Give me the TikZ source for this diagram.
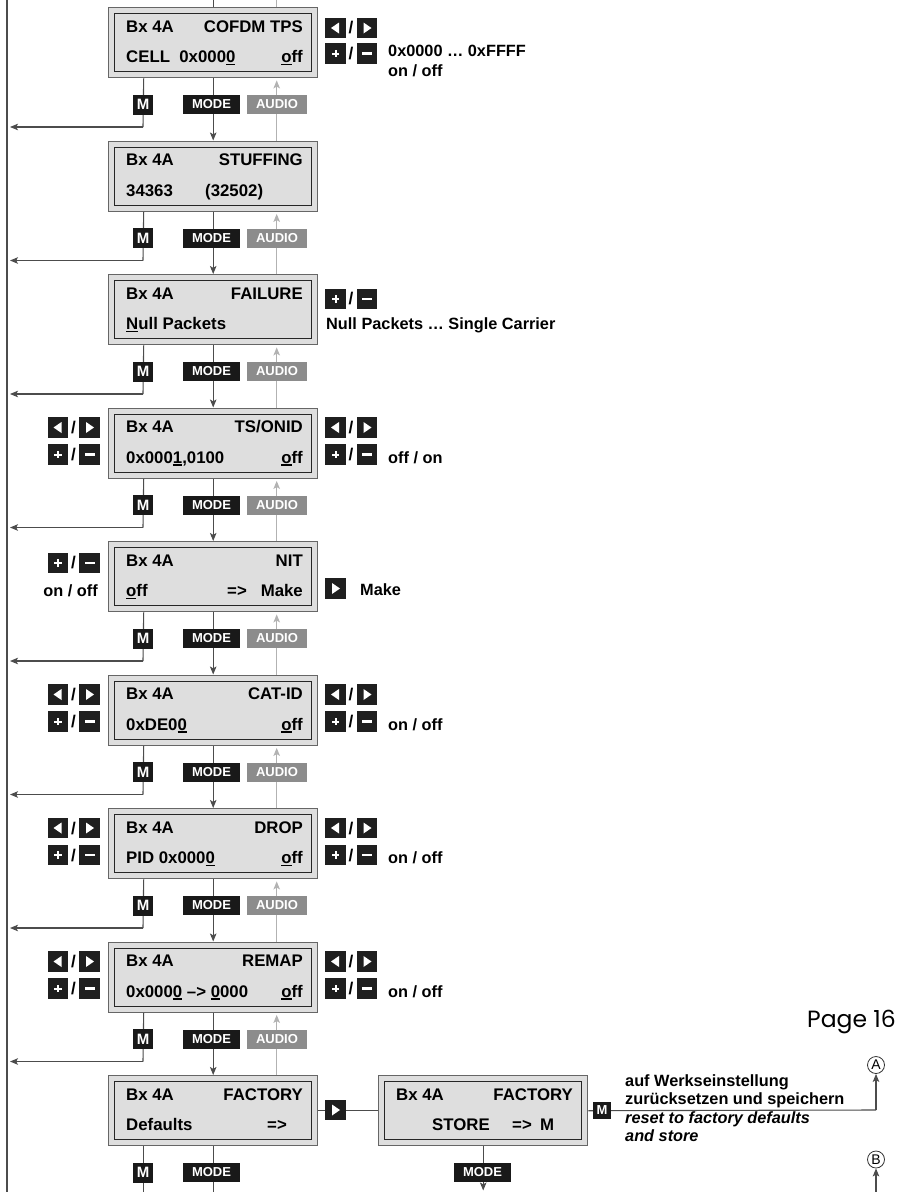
\documentclass[tikz,border=0pt]{standalone}
\usepackage{fontspec}
\setmainfont{Liberation Sans}
\newfontfamily\pagefont{Poppins}
\usetikzlibrary{arrows.meta,calc}
\newsavebox\myulbox
\newcommand\myul[1]{\sbox\myulbox{#1}\rlap{\rule[-2.6pt]{\wd\myulbox}{1.4pt}}\usebox{\myulbox}}
\newcommand\lrkeys[3]{%
 \node[keysq] (#1a) at (#2+10.5,#3) {};
 \fill[white] ($(#1a.center)+(-4.5,0)$) -- ++(8,-5.5) -- ++(0,11) -- cycle;
 \node[slashtxt] (#1s) at (#2+26,#3) {/};
 \node[keysq] (#1b) at (#2+42,#3) {};
 \fill[white] ($(#1b.center)+(4.5,0)$) -- ++(-8,-5.5) -- ++(0,11) -- cycle;
}
\newcommand\pmkeys[3]{%
 \node[keysq] (#1a) at (#2+10.5,#3) {};
 \fill[white] ($(#1a.center)+(-3.8,-1)$) rectangle ++(7.6,2);
 \fill[white] ($(#1a.center)+(-1,-3.8)$) rectangle ++(2,7.6);
 \node[slashtxt] (#1s) at (#2+26,#3) {/};
 \node[keysq] (#1b) at (#2+42,#3) {};
 \fill[white] ($(#1b.center)+(-5,-1.2)$) rectangle ++(10,2.4);
}
\begin{document}
\begin{tikzpicture}[x=1pt,y=-1pt,
  lcdout/.style={draw=black!60, line width=1.4pt, fill=black!13, minimum width=209pt, minimum height=70pt, inner sep=0, anchor=north west},
  lcdin/.style={draw=black!85, line width=1.3pt, minimum width=197pt, minimum height=58pt, inner sep=0},
  bt/.style={font=\fontsize{16.8}{18}\selectfont\bfseries, inner sep=0},
  btl/.style={bt, anchor=base west},
  btr/.style={bt, anchor=base east},
  rt/.style={font=\fontsize{16.3}{18}\selectfont\bfseries, inner sep=0, anchor=base west},
  keysq/.style={fill=black!88, minimum size=20.5pt, inner sep=0},
  slashtxt/.style={font=\fontsize{17}{18}\selectfont\bfseries, inner sep=0},
  modelab/.style={fill=black!90, text=white, font=\fontsize{13}{14}\selectfont\bfseries, minimum width=57pt, minimum height=19pt, inner sep=0},
  audiolab/.style={modelab, fill=black!45, minimum width=60pt},
  mlab/.style={fill=black!90, text=white, font=\fontsize{15}{16}\selectfont\bfseries, minimum width=20pt, minimum height=20pt, inner sep=0},
  mline/.style={draw=black!70, line width=1.1pt},
  aline/.style={draw=black!30, line width=1.1pt},
  arr/.style={-{Stealth[length=8pt,width=6.5pt,inset=1.8pt]}},
  circ/.style={circle, draw=black!80, line width=0.8pt, minimum size=17pt, inner sep=0, font=\fontsize{14}{15}\selectfont}
]
\useasboundingbox (0,0) rectangle (909,1192);
\coordinate (lt) at (7,0);
\coordinate (lb) at (7,1192);
\coordinate (top) at (0,0);
\coordinate (bot) at (0,1192);
\draw[mline, line width=1.4pt] (lt) -- (lb);

% LCD boxes
\foreach \i/\T in {0/7,1/140.5,2/274,3/407.5,4/541,5/674.5,6/808,7/941.5,8/1075} {
  \node[lcdout] (b\i) at (108,\T) {};
  \node[lcdin] (b\i in) at (b\i.center) {};
}
\node[lcdout] (s) at (378,1075) {};
\node[lcdin] (s in) at (s.center) {};

% top stubs
\draw[mline] (b0.north) -- (b0.north |- top);
\draw[aline] ([xshift=63.5pt]b0.north) -- ([xshift=63.5pt]b0.north |- top);

% connectors between blocks
\foreach \i/\T in {0/7,1/140.5,2/274,3/407.5,4/541,5/674.5,6/808,7/941.5} {
  \pgfmathtruncatemacro\j{\i+1}
  \coordinate (mc\i) at (143,\T+120);
  \draw[mline] ([xshift=-69.5pt]b\i.south) -- (mc\i);
  \draw[mline,arr,shorten >=3pt] (mc\i) -- (mc\i -| lt);
  \draw[mline,arr] (b\i.south) -- (b\j.north);
  \draw[aline,arr,shorten >=2pt] ([xshift=63.5pt]b\j.north) -- ([xshift=63.5pt]b\i.south);
  \node[mlab] (ml\i) at (143,\T+97.5) {M};
  \node[modelab] (mo\i) at (211.5,\T+97.5) {MODE};
  \node[audiolab] (au\i) at (277,\T+97.5) {AUDIO};
}

% factory block bottom
\draw[mline] ([xshift=-69.5pt]b8.south) -- ([xshift=-69.5pt]b8.south |- bot);
\draw[mline] (b8.south) -- (b8.south |- bot);
\node[mlab] (ml8) at (143,1172.5) {M};
\node[modelab] (mo8) at (211.5,1172.5) {MODE};

% factory -> store
\draw[mline] (b8.east) -- (s.west);
\node[keysq] (fk) at (335.5,1110) {};
\fill[white] ($(fk.center)+(4.5,0)$) -- ++(-8,-5.5) -- ++(0,11) -- cycle;
\draw[mline,arr,shorten >=1.5pt] (s.south) -- (s.south |- bot);
\node[modelab] (mos) at (482.5,1172.5) {MODE};

% store -> A
\node[circ] (A) at (876,1065) {A};
\node[circ] (B) at (876,1159.5) {B};
\coordinate (ac) at (876,1110);
\coordinate (bb) at (876,1192);
\draw[mline] (s.east) -- (ac);
\draw[mline,arr] (ac) -- (A.south);
\draw[mline,arr] (bb) -- (B.south);
\node[mlab, minimum width=18pt, minimum height=17pt, font=\fontsize{13}{14}\selectfont\bfseries] (sm) at (602,1110) {M};

% box texts
\node[btl] at (126,32) {Bx 4A};
\node[btr] at (303,32) {COFDM TPS};
\node[btl] at (126,62.5) {CELL\ \ 0x000\myul{0}};
\node[btr] at (303,62.5) {\myul{o}ff};

\node[btl] at (126,165.5) {Bx 4A};
\node[btr] at (303,165.5) {STUFFING};
\node[btl] at (126,196) {34363};
\node[btl] at (205,196) {(32502)};

\node[btl] at (126,299) {Bx 4A};
\node[btr] at (303,299) {FAILURE};
\node[btl] at (126,329.5) {\myul{N}ull Packets};

\node[btl] at (126,432.5) {Bx 4A};
\node[btr] at (303,432.5) {TS/ONID};
\node[btl] at (126,463) {0x000\myul{1},0100};
\node[btr] at (303,463) {\myul{o}ff};

\node[btl] at (126,566) {Bx 4A};
\node[btr] at (303,566) {NIT};
\node[btl] at (126,596.5) {\myul{o}ff};
\node[btl] at (227,596.5) {=>};
\node[btr] at (303,596.5) {Make};

\node[btl] at (126,699.5) {Bx 4A};
\node[btr] at (303,699.5) {CAT-ID};
\node[btl] at (126,730) {0xDE0\myul{0}};
\node[btr] at (303,730) {\myul{o}ff};

\node[btl] at (126,833) {Bx 4A};
\node[btr] at (303,833) {DROP};
\node[btl] at (126,863.5) {PID 0x000\myul{0}};
\node[btr] at (303,863.5) {\myul{o}ff};

\node[btl] at (126,966.5) {Bx 4A};
\node[btr] at (303,966.5) {REMAP};
\node[btl] at (126,997) {0x000\myul{0} –> \myul{0}000};
\node[btr] at (303,997) {\myul{o}ff};

\node[btl] at (126,1100) {Bx 4A};
\node[btr] at (303,1100) {FACTORY};
\node[btl] at (126,1130.5) {Defaults};
\node[btl] at (267,1130.5) {=>};

\node[btl] at (396,1100) {Bx 4A};
\node[btr] at (573,1100) {FACTORY};
\node[btl] at (432,1130.5) {STORE};
\node[btl] at (512,1130.5) {=>};
\node[btl] at (540,1130.5) {M};

% side keys and texts
\lrkeys{k0r}{325}{28}
\pmkeys{k0p}{325}{53.5}
\node[rt] at (388,56) {0x0000 … 0xFFFF};
\node[rt] at (388,76) {on / off};

\pmkeys{k2p}{325}{299}
\node[rt] at (326,329.5) {Null Packets … Single Carrier};

\lrkeys{k3l}{47.5}{427.5}
\pmkeys{k3m}{47.5}{454.5}
\lrkeys{k3r}{325}{427.5}
\pmkeys{k3p}{325}{454.5}
\node[rt] at (388,463) {off / on};

\pmkeys{k4m}{47.5}{563}
\node[rt, anchor=base east] at (98,596.5) {on / off};
\node[keysq] (k4r) at (335.5,588.5) {};
\fill[white] ($(k4r.center)+(4.5,0)$) -- ++(-8,-5.5) -- ++(0,11) -- cycle;
\node[rt] at (360,595.5) {Make};

\lrkeys{k5l}{47.5}{694.5}
\pmkeys{k5m}{47.5}{721.5}
\lrkeys{k5r}{325}{694.5}
\pmkeys{k5p}{325}{721.5}
\node[rt] at (388,730) {on / off};

\lrkeys{k6l}{47.5}{828}
\pmkeys{k6m}{47.5}{855}
\lrkeys{k6r}{325}{828}
\pmkeys{k6p}{325}{855}
\node[rt] at (388,863.5) {on / off};

\lrkeys{k7l}{47.5}{961.5}
\pmkeys{k7m}{47.5}{988.5}
\lrkeys{k7r}{325}{961.5}
\pmkeys{k7p}{325}{988.5}
\node[rt] at (388,997) {on / off};

% factory texts
\node[rt] at (625,1086) {auf Werkseinstellung};
\node[rt] at (625,1104.5) {zurücksetzen und speichern};
\node[rt, font=\fontsize{16.3}{18}\selectfont\bfseries\itshape] at (625,1123) {reset to factory defaults};
\node[rt, font=\fontsize{16.3}{18}\selectfont\bfseries\itshape] at (625,1141.5) {and store};

\node[anchor=base west, inner sep=0, font=\pagefont\fontsize{23.5}{26}\selectfont] (pg) at (807,1027) {Page 16};
\end{tikzpicture}
\end{document}
